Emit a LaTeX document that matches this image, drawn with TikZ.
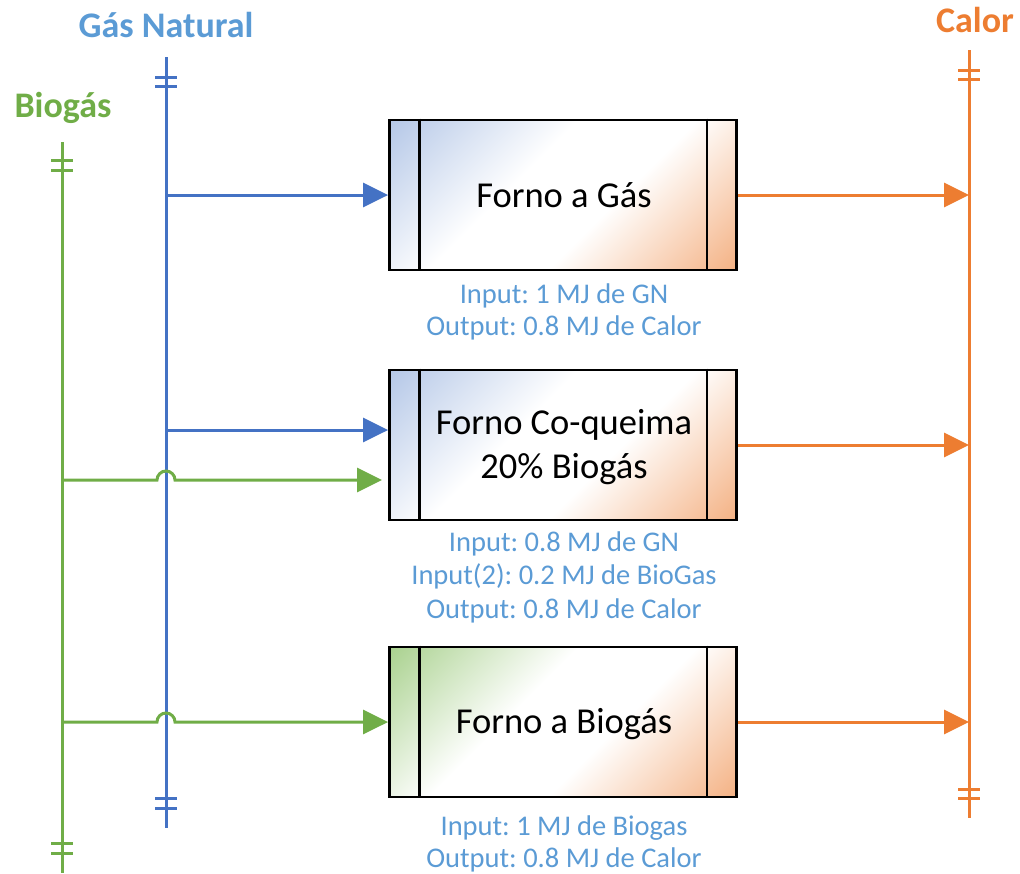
\documentclass[tikz,border=0pt]{standalone}
\usepackage{fontspec}
\setmainfont{Carlito}
\frenchspacing
\usetikzlibrary{arrows.meta}

\definecolor{gnline}{HTML}{4472C4}
\definecolor{bioline}{HTML}{70AD47}
\definecolor{heatline}{HTML}{ED7D31}
\definecolor{gntitle}{HTML}{5B9BD5}
\definecolor{infotext}{HTML}{5B9BD5}
\definecolor{gnfill}{HTML}{B4C7E7}
\definecolor{biofill}{HTML}{A9D18E}
\definecolor{heatfill}{HTML}{F4B183}

% diagonal fills, laid out along the 45-degree diagonal of a furnace box:
% input colour in the top-left corner, heat colour in the bottom-right one
\pgfdeclarehorizontalshading{gasshade}{360pt}{color(0pt)=(gnfill); color(4pt)=(gnfill); color(138pt)=(white); color(222pt)=(white); color(356pt)=(heatfill); color(360pt)=(heatfill)}
\pgfdeclarehorizontalshading{bioshade}{360pt}{color(0pt)=(biofill); color(4pt)=(biofill); color(138pt)=(white); color(222pt)=(white); color(356pt)=(heatfill); color(360pt)=(heatfill)}

\tikzset{
  bus/.style={line width=3pt},
  gasbus/.style={bus, draw=gnline},
  biobus/.style={bus, draw=bioline},
  heatbus/.style={bus, draw=heatline},
  flow/.style={-{Triangle[length=25pt, width=24pt]}},
  furnace/.style={draw, line width=2.8pt, minimum width=347pt, minimum height=150pt, inner sep=0pt,
    path picture={\node[rotate=-45, inner sep=0pt] at (path picture bounding box.center) {\pgfuseshading{#1}};}},
  divider/.style={line width=2.8pt},
  boxtext/.style={anchor=base, inner sep=0pt, font=\fontsize{36.5}{44}\selectfont},
  infolabel/.style={anchor=base, inner sep=0pt, text=infotext, font=\fontsize{28.5}{33}\selectfont},
  title/.style={anchor=base, inner sep=0pt, font=\fontsize{36}{42}\selectfont\bfseries},
}

\begin{document}
\begin{tikzpicture}[x=1pt, y=-1pt]
\useasboundingbox (0,0) rectangle (1020,873);

% ---- carrier buses ----
\coordinate (gnTop) at (166,57);
\coordinate (gnBot) at (166,828);
\coordinate (bioTop) at (62,142);
\coordinate (bioBot) at (62,873);
\coordinate (heatTop) at (969,50);
\coordinate (heatBot) at (969,818);

\draw[gasbus] (gnTop) -- (gnBot);
\draw[gasbus] (155,77) -- (177,77) (155,86) -- (177,86);
\draw[gasbus] (155,798) -- (177,798) (155,808) -- (177,808);

\draw[biobus] (bioTop) -- (bioBot);
\draw[biobus] (51,160) -- (73,160) (51,170) -- (73,170);
\draw[biobus] (51,843) -- (73,843) (51,853) -- (73,853);

\draw[heatbus] (heatTop) -- (heatBot);
\draw[heatbus] (958,70) -- (980,70) (958,79) -- (980,79);
\draw[heatbus] (958,789) -- (980,789) (958,798) -- (980,798);

% ---- bus titles ----
\node[title, text=gntitle] (gnName) at (166,37) {Gás Natural};
\node[title, text=bioline] (bioName) at (63,117) {Biogás};
\node[title, text=heatline] (heatName) at (975,32) {Calor};

% ---- furnaces ----
\node[furnace=gasshade] (b1) at (563,195) {};
\node[furnace=gasshade] (b2) at (563,445) {};
\node[furnace=bioshade] (b3) at (563,722) {};
\foreach \b in {b1,b2,b3}{
  \draw[divider] ([xshift=31pt]\b.north west) -- ([xshift=31pt]\b.south west);
  \draw[divider] ([xshift=-31pt]\b.north east) -- ([xshift=-31pt]\b.south east);
}

\node[boxtext] (t1) at (564,207) {Forno a Gás};
\node[boxtext] (t2a) at (564,434) {Forno Co-queima};
\node[boxtext] (t2b) at (564,478) {20\% Biogás};
\node[boxtext] (t3) at (564,733) {Forno a Biogás};

% ---- input / output notes ----
\node[infolabel] (i1a) at (564,303) {Input: 1 MJ de GN};
\node[infolabel] (i1b) at (564,335) {Output: 0.8 MJ de Calor};
\node[infolabel] (i2a) at (564,551) {Input: 0.8 MJ de GN};
\node[infolabel] (i2b) at (564,584) {Input(2): 0.2 MJ de BioGas};
\node[infolabel] (i2c) at (564,618) {Output: 0.8 MJ de Calor};
\node[infolabel] (i3a) at (564,835) {Input: 1 MJ de Biogas};
\node[infolabel] (i3b) at (564,867) {Output: 0.8 MJ de Calor};

% ---- taps from the buses ----
\coordinate (gnTap1) at (166,195);
\coordinate (gnTap2) at (166,430);
\coordinate (bioTap2) at (62,480);
\coordinate (bioTap3) at (62,722);
\coordinate (hop2) at (157,480);
\coordinate (hop3) at (157,722);
\coordinate (b2bio) at (382,480);

\draw[gasbus, flow] (gnTap1) -- (b1.west);
\draw[gasbus, flow] (gnTap2) -- (b2.west |- gnTap2);
\draw[biobus, flow] (bioTap2) -- (hop2) arc[start angle=180, end angle=0, radius=9pt] -- (b2bio);
\draw[biobus, flow] (bioTap3) -- (hop3) arc[start angle=180, end angle=0, radius=9pt] -- (b3.west);

% ---- heat outputs ----
\draw[heatbus, flow] (b1.east) -- (heatTop |- b1.east);
\draw[heatbus, flow] (b2.east) -- (heatTop |- b2.east);
\draw[heatbus, flow] (b3.east) -- (heatTop |- b3.east);
\end{tikzpicture}
\end{document}
